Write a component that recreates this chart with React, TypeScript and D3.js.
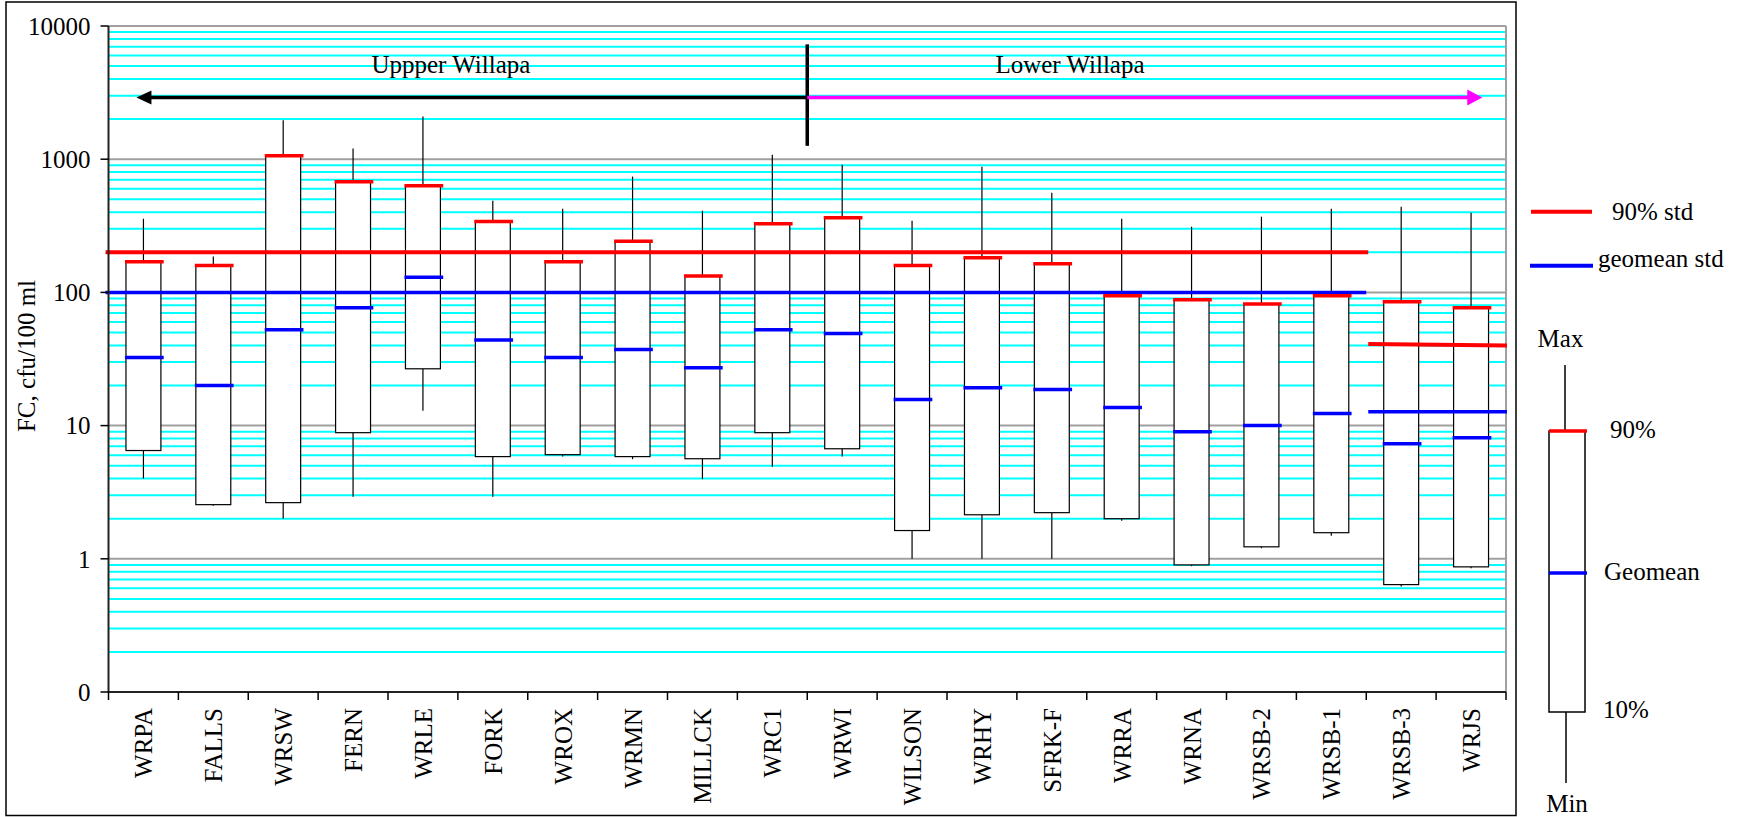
import * as d3 from 'd3';

const sites = ['WRPA', 'FALLS', 'WRSW', 'FERN', 'WRLE', 'FORK', 'WROX', 'WRMN', 'MILLCK', 'WRC1',
  'WRWI', 'WILSON', 'WRHY', 'SFRK-F', 'WRRA', 'WRNA', 'WRSB-2', 'WRSB-1', 'WRSB-3', 'WRJS'];
const maxVals = [357, 186, 1960, 1205, 2090, 487, 425, 740, 410, 1081, 910, 345, 879, 560, 357, 311, 370, 425, 440, 396];
const p90Vals = [170, 159, 1062, 678, 632, 340, 170, 242, 133, 328, 364, 159, 182, 164, 94.4, 88, 82, 94.4, 85, 76.8];
const geoVals = [32.4, 20, 52.5, 76.8, 130, 44, 32.4, 37.2, 27.2, 52.5, 49.2, 15.7, 19.2, 18.7, 13.7, 9.0, 10, 12.3, 7.3, 8.1];
const p10Vals = [6.5, 2.55, 2.64, 8.85, 26.7, 5.85, 6.05, 5.85, 5.64, 8.85, 6.7, 1.63, 2.14, 2.22, 2.0, 0.9, 1.23, 1.57, 0.64, 0.87];
const minVals = [4, 2.5, 2.0, 2.92, 12.9, 2.92, 5.85, 5.6, 3.96, 4.9, 5.85, 1, 1, 1, 1.93, 0.88, 1.2, 1.49, 0.62, 0.85];

// standards: freshwater up to WRSB-1, marine for WRSB-3 and WRJS
const fresh90 = 200;
const freshGeo = 100;
const marine90 = [41, 40];
const marineGeo = 12.7;
const marineStart = 'WRSB-3';

const yTickVals = [0.1, 1, 10, 100, 1000, 10000];
const yTickLabels = ['0', '1', '10', '100', '1000', '10000'];

const regionLabels = ['Uppper Willapa', 'Lower Willapa'];
const dividerSite = 'WRWI';
const dividerRange = [1260, 7280];
const arrowLevel = 2900;
const labelLevel = 4400;

const W = 1754;
const H = 817;
const FONT = "'Liberation Serif', 'Times New Roman', Times, 'DejaVu Serif', serif";

export default function App() {
  const left = 108.5, right = 1506, top = 26, bottom = 692;
  const x = d3.scaleBand().domain(sites).range([left, right]);
  const bw = x.bandwidth();
  const y = d3.scaleLog().domain([0.1, 10000]).range([bottom, top]);
  const cx = (s: string) => (x(s) as number) + bw / 2;

  const allTicks = y.ticks();
  const minor = allTicks.filter(t => !yTickVals.some(v => Math.abs(v - t) / v < 1e-6));
  const boxW = bw * 0.5;
  const capW = bw * 0.54;
  const mStart = x(marineStart) as number;
  const divX = x(dividerSite) as number;
  const arrowY = y(arrowLevel);
  const leftTip = (x('WRPA') as number) + bw * 0.4;
  const rightTip = (x('WRJS') as number) + bw * 0.66;
  const txt = { fontFamily: FONT, fontSize: 25 };

  return (
    <svg width={W} height={H} style={{ position: 'absolute', left: 0, top: 0, background: '#fff', fontFamily: FONT }}>
      <rect x={6} y={2} width={1510} height={813.5} fill="#fff" stroke="#000" strokeWidth={1.5} />

      {/* gridlines */}
      {minor.map((t, i) => (
        <line key={'m' + i} x1={left} x2={right} y1={y(t)} y2={y(t)} stroke="#00ffff" strokeWidth={2} />
      ))}
      {yTickVals.slice(1).map((t, i) => (
        <line key={'M' + i} x1={left} x2={right} y1={y(t)} y2={y(t)} stroke="#a0a0a0" strokeWidth={2} />
      ))}
      <line x1={right} x2={right} y1={top} y2={bottom} stroke="#a0a0a0" strokeWidth={2} />

      {/* boxes */}
      {sites.map((s, i) => {
        const c = cx(s);
        return (
          <g key={s}>
            <line x1={c} x2={c} y1={y(maxVals[i])} y2={y(p90Vals[i])} stroke="#000" strokeWidth={1.2} />
            <line x1={c} x2={c} y1={y(p10Vals[i])} y2={y(minVals[i])} stroke="#000" strokeWidth={1.2} />
            <rect x={c - boxW / 2} y={y(p90Vals[i])} width={boxW} height={y(p10Vals[i]) - y(p90Vals[i])}
              fill="#fff" stroke="#000" strokeWidth={1.2} />
          </g>
        );
      })}

      {/* standards */}
      <line x1={left - 3} x2={mStart + 2} y1={y(fresh90)} y2={y(fresh90)} stroke="#ff0000" strokeWidth={4} />
      <line x1={left - 3} x2={mStart} y1={y(freshGeo)} y2={y(freshGeo)} stroke="#0000ff" strokeWidth={3.5} />
      <line x1={mStart + 2} x2={right + 1} y1={y(marine90[0])} y2={y(marine90[1])} stroke="#ff0000" strokeWidth={4} />
      <line x1={mStart + 2} x2={right + 1} y1={y(marineGeo)} y2={y(marineGeo)} stroke="#0000ff" strokeWidth={3.5} />

      {/* caps */}
      {sites.map((s, i) => {
        const c = cx(s);
        return (
          <g key={'c' + s}>
            <line x1={c - boxW / 2 - 1} x2={c - boxW / 2 + capW} y1={y(p90Vals[i])} y2={y(p90Vals[i])}
              stroke="#ff0000" strokeWidth={3.5} />
            <line x1={c - boxW / 2 - 1} x2={c - boxW / 2 + capW} y1={y(geoVals[i])} y2={y(geoVals[i])}
              stroke="#0000ff" strokeWidth={3.5} />
          </g>
        );
      })}

      {/* axes */}
      <line x1={left} x2={right} y1={bottom} y2={bottom} stroke="#222" strokeWidth={2} />
      <line x1={left} x2={left} y1={top} y2={bottom} stroke="#222" strokeWidth={2} />
      {yTickVals.map((t, i) => (
        <g key={'yt' + i}>
          <line x1={left - 8} x2={left} y1={y(t)} y2={y(t)} stroke="#000" strokeWidth={1.5} />
          <text x={left - 18} y={y(t)} dy="0.35em" textAnchor="end" style={txt}>{yTickLabels[i]}</text>
        </g>
      ))}
      {[...sites.map(s => x(s) as number), right].map((v, i) => (
        <line key={'xt' + i} x1={v} x2={v} y1={bottom} y2={bottom + 8} stroke="#000" strokeWidth={1.5} />
      ))}
      {sites.map(s => (
        <text key={'xl' + s} transform={`translate(${cx(s) + 9},${bottom + 16}) rotate(-90)`}
          textAnchor="end" style={txt}>{s}</text>
      ))}
      <text transform={`translate(35,356) rotate(-90)`} textAnchor="middle" style={txt}>FC, cfu/100 ml</text>

      {/* region annotations */}
      <line x1={divX} x2={divX} y1={y(dividerRange[1])} y2={y(dividerRange[0])} stroke="#000" strokeWidth={3.5} />
      <line x1={leftTip + 12} x2={divX} y1={arrowY} y2={arrowY} stroke="#000" strokeWidth={3.5} />
      <path d={`M${leftTip},${arrowY} L${leftTip + 15},${arrowY - 7} L${leftTip + 15},${arrowY + 7} Z`} fill="#000" />
      <line x1={divX} x2={rightTip - 12} y1={arrowY} y2={arrowY} stroke="#ff00ff" strokeWidth={3.5} />
      <path d={`M${rightTip},${arrowY} L${rightTip - 15},${arrowY - 8} L${rightTip - 15},${arrowY + 8} Z`} fill="#ff00ff" />
      <text x={(x('WRLE') as number) + bw * 0.9} y={y(labelLevel)} textAnchor="middle" style={txt}>{regionLabels[0]}</text>
      <text x={(x('SFRK-F') as number) + bw * 0.76} y={y(labelLevel)} textAnchor="middle" style={txt}>{regionLabels[1]}</text>

      {/* legend */}
      <line x1={1531} x2={1592} y1={211.7} y2={211.7} stroke="#ff0000" strokeWidth={4} />
      <text x={1612} y={220} style={txt}>90% std</text>
      <line x1={1530} x2={1593} y1={265.7} y2={265.7} stroke="#0000ff" strokeWidth={4} />
      <text x={1598} y={267} style={txt}>geomean std</text>

      <text x={1560.5} y={347} textAnchor="middle" style={txt}>Max</text>
      <line x1={1565} x2={1565} y1={365} y2={431} stroke="#000" strokeWidth={1.5} />
      <rect x={1549} y={431} width={36} height={281} fill="#fff" stroke="#000" strokeWidth={1.5} />
      <line x1={1549} x2={1587} y1={431} y2={431} stroke="#ff0000" strokeWidth={3.5} />
      <line x1={1549} x2={1587} y1={573} y2={573} stroke="#0000ff" strokeWidth={3.5} />
      <line x1={1566} x2={1566} y1={712} y2={783} stroke="#000" strokeWidth={1.5} />
      <text x={1610} y={438} style={txt}>90%</text>
      <text x={1604} y={580} style={txt}>Geomean</text>
      <text x={1603} y={718} style={txt}>10%</text>
      <text x={1567} y={812} textAnchor="middle" style={txt}>Min</text>
    </svg>
  );
}
